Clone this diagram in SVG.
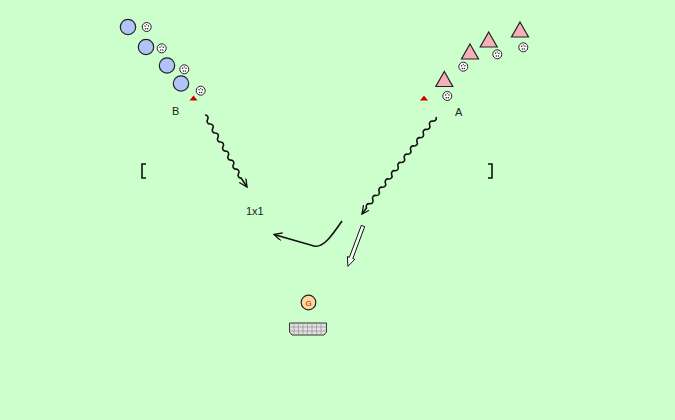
<svg xmlns="http://www.w3.org/2000/svg" width="675" height="420" viewBox="0 0 675 420">
<defs>
<style>
.pb{fill:#b0c4f8;stroke:#222;stroke-width:1.2}
.pa{fill:#f8b0b8;stroke:#222;stroke-width:1.2}
.ball circle.o{fill:#fff;stroke:#222;stroke-width:1}
.ball circle.d{fill:#222}
.cone{fill:#d00000}
.lbl{font-family:"Liberation Sans",Arial,sans-serif;font-size:11px;fill:#222}
.wave{fill:none;stroke:#111;stroke-width:1.6}
.run{fill:none;stroke:#111;stroke-width:1.6}
</style>
<marker id="ah" markerWidth="10" markerHeight="10" refX="8" refY="4" orient="auto" markerUnits="userSpaceOnUse">
<path d="M0,0 L8,4 L0,8" fill="none" stroke="#111" stroke-width="1.3"/>
</marker>
<g id="ballsym" class="ball">
<circle class="o" r="4.5"/>
<circle class="d" cx="-1.7" cy="-1" r="0.75"/>
<circle class="d" cx="1.7" cy="-1" r="0.75"/>
<circle class="d" cx="0" cy="-2.4" r="0.6"/>
<circle class="d" cx="-1" cy="1.8" r="0.75"/>
<circle class="d" cx="1" cy="1.8" r="0.75"/>
</g>
</defs>
<rect width="675" height="420" fill="#ccffcc"/>

<g id="teamB">
<circle class="pb" cx="128" cy="27" r="7.7"/>
<circle class="pb" cx="146" cy="47" r="7.7"/>
<circle class="pb" cx="167" cy="65.5" r="7.7"/>
<circle class="pb" cx="181" cy="83.5" r="7.7"/>
</g>
<g id="ballsB">
<use href="#ballsym" x="146.7" y="27"/>
<use href="#ballsym" x="161.7" y="48.3"/>
<use href="#ballsym" x="184.3" y="69.3"/>
<use href="#ballsym" x="200.7" y="90.7"/>
</g>
<g id="coneB"><polygon class="cone" points="189.5,100.5 193.5,95.5 197.5,100.5"/></g>
<g id="labelB"><text class="lbl" x="172" y="115">B</text></g>

<g id="teamA">
<polygon class="pa" points="520,22 528.5,37 511.5,37"/>
<polygon class="pa" points="488.7,32 497.2,47 480.2,47"/>
<polygon class="pa" points="470,44 478.5,59 461.5,59"/>
<polygon class="pa" points="444.3,71.5 452.8,86.5 435.8,86.5"/>
</g>
<g id="ballsA">
<use href="#ballsym" x="523.3" y="47.3"/>
<use href="#ballsym" x="497.3" y="54.3"/>
<use href="#ballsym" x="463.3" y="66.7"/>
<use href="#ballsym" x="447.3" y="96"/>
</g>
<g id="coneA"><polygon class="cone" points="420,100.5 424,95.5 428,100.5"/></g>
<g id="labelA"><text class="lbl" x="455" y="116">A</text></g>

<g id="bracketL"><path d="M146,164 H142 V178 H146" fill="none" stroke="#111" stroke-width="1.6"/></g>
<g id="bracketR"><path d="M488,164 H492 V178 H488" fill="none" stroke="#111" stroke-width="1.6"/></g>

<g id="label1x1"><text class="lbl" x="246" y="215">1x1</text></g>

<g id="connectors">
<path class="wave" marker-end="url(#ah)" d="M205,115 a2.9,2.9 0 0 1 2.58,4.51 a2.9,2.9 0 0 0 2.58,4.51 a2.9,2.9 0 0 1 2.58,4.51 a2.9,2.9 0 0 0 2.58,4.51 a2.9,2.9 0 0 1 2.58,4.51 a2.9,2.9 0 0 0 2.58,4.51 a2.9,2.9 0 0 1 2.58,4.51 a2.9,2.9 0 0 0 2.58,4.51 a2.9,2.9 0 0 1 2.58,4.51 a2.9,2.9 0 0 0 2.58,4.51 a2.9,2.9 0 0 1 2.58,4.51 a2.9,2.9 0 0 0 2.58,4.51 a2.9,2.9 0 0 1 2.58,4.51 a2.9,2.9 0 0 0 2.58,4.51 L247,187"/>
<path class="wave" marker-end="url(#ah)" d="M436,117 a2.9,2.9 0 0 1 -3.16,4.13 a2.9,2.9 0 0 0 -3.16,4.13 a2.9,2.9 0 0 1 -3.16,4.13 a2.9,2.9 0 0 0 -3.16,4.13 a2.9,2.9 0 0 1 -3.16,4.13 a2.9,2.9 0 0 0 -3.16,4.13 a2.9,2.9 0 0 1 -3.16,4.13 a2.9,2.9 0 0 0 -3.16,4.13 a2.9,2.9 0 0 1 -3.16,4.13 a2.9,2.9 0 0 0 -3.16,4.13 a2.9,2.9 0 0 1 -3.16,4.13 a2.9,2.9 0 0 0 -3.16,4.13 a2.9,2.9 0 0 1 -3.16,4.13 a2.9,2.9 0 0 0 -3.16,4.13 a2.9,2.9 0 0 1 -3.16,4.13 a2.9,2.9 0 0 0 -3.16,4.13 a2.9,2.9 0 0 1 -3.16,4.13 a2.9,2.9 0 0 0 -3.16,4.13 a2.9,2.9 0 0 1 -3.16,4.13 a2.9,2.9 0 0 0 -3.16,4.13 a2.9,2.9 0 0 1 -3.16,4.13 a2.9,2.9 0 0 0 -3.16,4.13 L362,214"/>
<path class="run" marker-end="url(#ah)" d="M342,221 C331,237 323,248 314,246 L274,234.5"/>
<polygon points="364.7,226.6 352.8,258.5 354.8,259.3 347.9,266.3 347.4,256.5 349.4,257.3 361.3,225.4" fill="#f4fff4" stroke="#111" stroke-width="1"/>
</g>

<g id="goalkeeper">
<circle cx="308.5" cy="302.5" r="7.3" fill="#ffdd99" stroke="#222" stroke-width="1.2"/>
<text x="308.5" y="305.5" text-anchor="middle" font-family="Liberation Sans,Arial,sans-serif" font-size="8" fill="#c00000">G</text>
</g>

<g id="goal">
<path d="M289.5,323 H326.5 V332 L324,335 H292 L289.5,332 Z" fill="#e0e0e0" stroke="#333" stroke-width="1"/>
<path d="M289.5,327 H326.5 M289.5,331 H326.5 M294,323 V335 M298.5,323 V335 M303,323 V335 M307.5,323 V335 M312,323 V335 M316.5,323 V335 M321,323 V335" stroke="#888" stroke-width="0.6" fill="none"/>
</g>
</svg>
